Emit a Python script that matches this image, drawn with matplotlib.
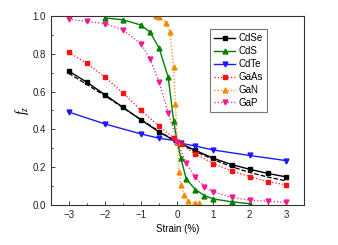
import matplotlib
matplotlib.use('Agg')
import matplotlib.pyplot as plt
from matplotlib.ticker import MultipleLocator

plt.rcParams['font.family'] = ['Liberation Sans', 'DejaVu Sans']
plt.rcParams['mathtext.fontset'] = 'custom'
plt.rcParams['mathtext.it'] = 'Liberation Serif:italic'

# CdSe
cdse_x = [-3, -2.5, -2, -1.5, -1, -0.5, 0, 0.5, 1, 1.5, 2, 2.5, 3]
cdse_y = [0.709, 0.65, 0.584, 0.517, 0.45, 0.386, 0.333, 0.289, 0.247, 0.214, 0.189, 0.167, 0.149]
# dashed reference curve next to CdSe
fit_x = [-3, -2.5, -2, -1.5, -1, -0.5, 0, 0.5, 1, 1.5, 2, 2.5, 3]
fit_y = [0.697, 0.638, 0.578, 0.515, 0.452, 0.39, 0.333, 0.283, 0.24, 0.203, 0.172, 0.148, 0.128]
# CdS
cds_x = [-2, -1.5, -1, -0.75, -0.5, -0.25, -0.1, 0, 0.1, 0.25, 0.5, 0.75, 1, 1.5, 2]
cds_y = [0.99, 0.98, 0.952, 0.914, 0.83, 0.676, 0.446, 0.335, 0.247, 0.137, 0.082, 0.05, 0.032, 0.017, 0.007]
# CdTe
cdte_x = [-3, -2, -1, -0.5, -0.1, 0.1, 0.5, 1, 2, 3]
cdte_y = [0.492, 0.429, 0.376, 0.353, 0.342, 0.327, 0.312, 0.291, 0.262, 0.235]
# GaAs
gaas_x = [-3, -2.5, -2, -1.5, -1, -0.5, -0.1, 0.1, 0.5, 1, 1.5, 2, 2.5, 3]
gaas_y = [0.808, 0.75, 0.677, 0.593, 0.501, 0.417, 0.356, 0.324, 0.27, 0.219, 0.18, 0.15, 0.123, 0.107]
# GaN
gan_x = [-0.6, -0.5, -0.3, -0.2, -0.1, -0.05, 0, 0.05, 0.1, 0.2, 0.3, 0.5, 0.6]
gan_y = [1.0, 0.993, 0.965, 0.915, 0.728, 0.534, 0.335, 0.175, 0.104, 0.051, 0.02, 0.008, 0.008]
# GaP
gap_x = [-3, -2.5, -2, -1.5, -1, -0.75, -0.5, -0.25, 0, 0.25, 0.5, 0.75, 1, 1.5, 2, 2.5, 3]
gap_y = [0.982, 0.972, 0.96, 0.927, 0.852, 0.773, 0.649, 0.488, 0.335, 0.22, 0.146, 0.097, 0.07, 0.04, 0.026, 0.02, 0.014]

fig = plt.figure(figsize=(3.38, 2.45), dpi=100)
ax = fig.add_axes([50.5 / 338, 40 / 245, 253.5 / 338, 189 / 245])

ax.plot(fit_x, fit_y, '--', color='black', lw=0.9, zorder=1)
ax.plot(cdse_x, cdse_y, '-s', color='black', lw=1.0, ms=3, label='CdSe')
ax.plot(cds_x, cds_y, '-^', color='#008000', lw=1.0, ms=3.5, label='CdS')
ax.plot(cdte_x, cdte_y, '-v', color='#1a1aff', lw=1.0, ms=3.5, label='CdTe')
ax.plot(gaas_x, gaas_y, ':s', color='#ff1010', lw=0.9, ms=3, label='GaAs')
ax.plot(gan_x, gan_y, ':^', color='#f08c00', lw=0.9, ms=3.5, label='GaN')
ax.plot(gap_x, gap_y, ':v', color='#ee1c90', lw=0.9, ms=3.5, label='GaP')

ax.set_xlim(-3.5, 3.5)
ax.set_ylim(0, 1.0)
ax.xaxis.set_major_locator(MultipleLocator(1))
ax.xaxis.set_minor_locator(MultipleLocator(0.5))
ax.yaxis.set_major_locator(MultipleLocator(0.2))
ax.yaxis.set_minor_locator(MultipleLocator(0.1))
ax.yaxis.set_major_formatter(plt.FormatStrFormatter('%.1f'))
ax.tick_params(which='both', direction='in', labelsize=7, colors='#222222')
ax.tick_params(which='major', length=3, width=0.6)
ax.tick_params(which='minor', length=1.5, width=0.6)
for s in ax.spines.values():
    s.set_linewidth(0.8)
    s.set_color('#333333')

ax.set_xlabel('Strain (%)', fontsize=7, labelpad=3)
ax.set_ylabel(r'$f_z$', fontsize=10, labelpad=1)

leg = ax.legend(loc='upper right', bbox_to_anchor=(0.872, 0.955), fontsize=7,
                fancybox=False, framealpha=1, edgecolor='#777777',
                handlelength=2.2, handletextpad=0.3, labelspacing=0.3,
                borderpad=0.4)
leg.get_frame().set_linewidth(0.8)

fig.savefig('out.png', dpi=100)
